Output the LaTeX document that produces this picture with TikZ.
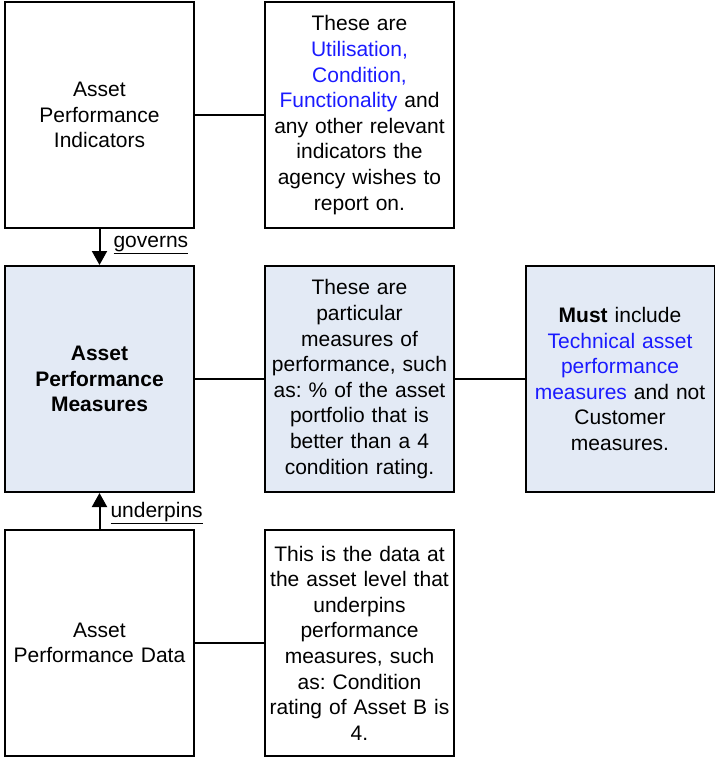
\documentclass[tikz,border=0pt]{standalone}
\usepackage{fontspec}
\setmainfont{Liberation Sans}
\usetikzlibrary{arrows.meta}
\definecolor{boxfill}{HTML}{E3EAF5}
\definecolor{lblue}{HTML}{1A1AFF}
\newcommand{\bl}[1]{\textcolor{lblue}{#1}}
\frenchspacing
\tikzset{
  box/.style={draw=black, line width=2pt, minimum width=189pt, minimum height=226pt,
    inner sep=0pt, text width=187pt, align=center, font=\fontsize{21pt}{25.6pt}\selectfont},
  filled/.style={box, fill=boxfill},
  conn/.style={line width=1.5pt},
  arr/.style={line width=2pt, -{Triangle[width=15pt,length=14pt]}},
  lbl/.style={font=\fontsize{21pt}{25.6pt}\selectfont, inner sep=0pt, anchor=west}
}
\begin{document}
\begin{tikzpicture}[x=1pt,y=-1pt]
\useasboundingbox (0,0) rectangle (715,758);
\node[box] (A) at (99.5,115) {Asset\\Performance\\Indicators};
\node[box] (B) at (359.5,115) {These are\\\bl{Utilisation,}\\\bl{Condition,}\\\bl{Functionality} and\\any other relevant\\indicators the\\agency wishes to\\report on.};
\node[filled] (C) at (99.5,379) {\textbf{Asset}\\\textbf{Performance}\\\textbf{Measures}};
\node[filled] (D) at (359.5,379) {These are\\particular\\measures of\\performance, such\\as: \% of the asset\\portfolio that is\\better than a 4\\condition rating.};
\node[filled] (E) at (620,379) {\textbf{Must} include\\\bl{Technical asset}\\\bl{performance}\\\bl{measures} and not\\Customer\\measures.};
\node[box] (F) at (99.5,643) {Asset\\Performance Data};
\node[box] (G) at (359.5,643) {This is the data at\\the asset level that\\underpins\\performance\\measures, such\\as: Condition\\rating of Asset B is\\4.};
\draw[conn] (A.east) -- (B.west);
\draw[conn] (C.east) -- (D.west);
\draw[conn] (D.east) -- (E.west);
\draw[conn] (F.east) -- (G.west);
\draw[arr] (A.south) -- (C.north) node[lbl, pos=0.45, xshift=13pt] (gov) {\underline{governs}};
\draw[arr] (F.north) -- (C.south) node[lbl, pos=0.45, xshift=10pt] (und) {\underline{underpins}};
\end{tikzpicture}
\end{document}
